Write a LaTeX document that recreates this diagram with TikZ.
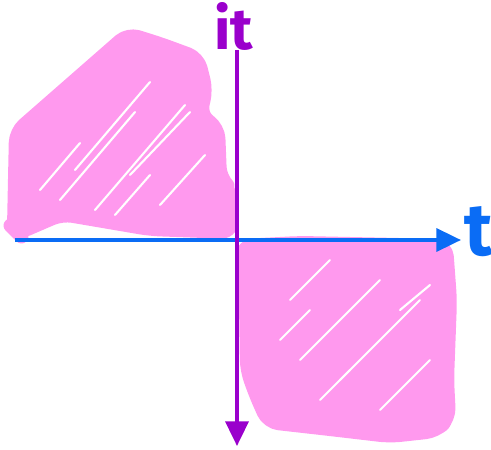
\documentclass[tikz,border=0pt]{standalone}
\usepackage{fontspec}
\newfontfamily\handfont{Fira Sans}
\usetikzlibrary{arrows.meta}
\definecolor{pinkfill}{HTML}{FF99EE}
\definecolor{axisblue}{HTML}{0A6CF5}
\definecolor{axispurple}{HTML}{9A00CC}
\tikzset{
  scribble/.style={fill=pinkfill, draw=pinkfill, line width=8pt, line join=round, rounded corners=6pt},
  streak/.style={draw=white, line width=1.2pt, line cap=round},
  axis/.style={line width=2.2pt, -{Triangle[length=14pt,width=13pt]}},
  lbl/.style={font=\handfont\bfseries\fontsize{33}{33}\selectfont, inner sep=0pt}
}
\begin{document}
\begin{tikzpicture}[x=0.02cm,y=-0.02cm]
\useasboundingbox (0,0) rectangle (491,450);
% upper-left scribble
\path[scribble] (14,229) -- (16,132) -- (128,34) -- (160,44) -- (198,58) -- (206,90) -- (200,115) -- (218,128) -- (220,178) -- (229,187) -- (232,232) -- (150,229) -- (62,214) -- (18,233) -- cycle;
\draw[streak] (60,200) -- (135,112);
\draw[streak] (95,210) -- (185,105);
\draw[streak] (130,175) -- (190,112);
\draw[streak] (75,170) -- (150,82);
\draw[streak] (160,205) -- (205,155);
\draw[streak] (40,190) -- (80,143);
\draw[streak] (115,215) -- (150,175);
% lower-right scribble
\path[scribble] (242,246) -- (300,243) -- (446,246) -- (450,300) -- (447,380) -- (449,418) -- (436,431) -- (390,436) -- (330,429) -- (268,422) -- (256,395) -- (247,370) -- (246,300) -- cycle;
\draw[streak] (290,300) -- (330,260);
\draw[streak] (300,360) -- (380,280);
\draw[streak] (340,380) -- (420,300);
\draw[streak] (380,410) -- (430,360);
\draw[streak] (280,340) -- (310,310);
\draw[streak] (400,310) -- (430,285);
\draw[streak] (320,400) -- (350,370);
% axes
\coordinate (hstart) at (15,240);
\coordinate (hend) at (461,240);
\coordinate (vstart) at (237,50);
\coordinate (vend) at (237,446);
\draw[axis, axisblue] (hstart) -- (hend);
\draw[axis, axispurple] (vstart) -- (vend);
% labels
\node[lbl, text=axispurple] (itlabel) at (234,26) {it};
\node[lbl, text=axisblue, font=\handfont\bfseries\fontsize{42}{42}\selectfont] (tlabel) at (479,232) {t};
\end{tikzpicture}
\end{document}
